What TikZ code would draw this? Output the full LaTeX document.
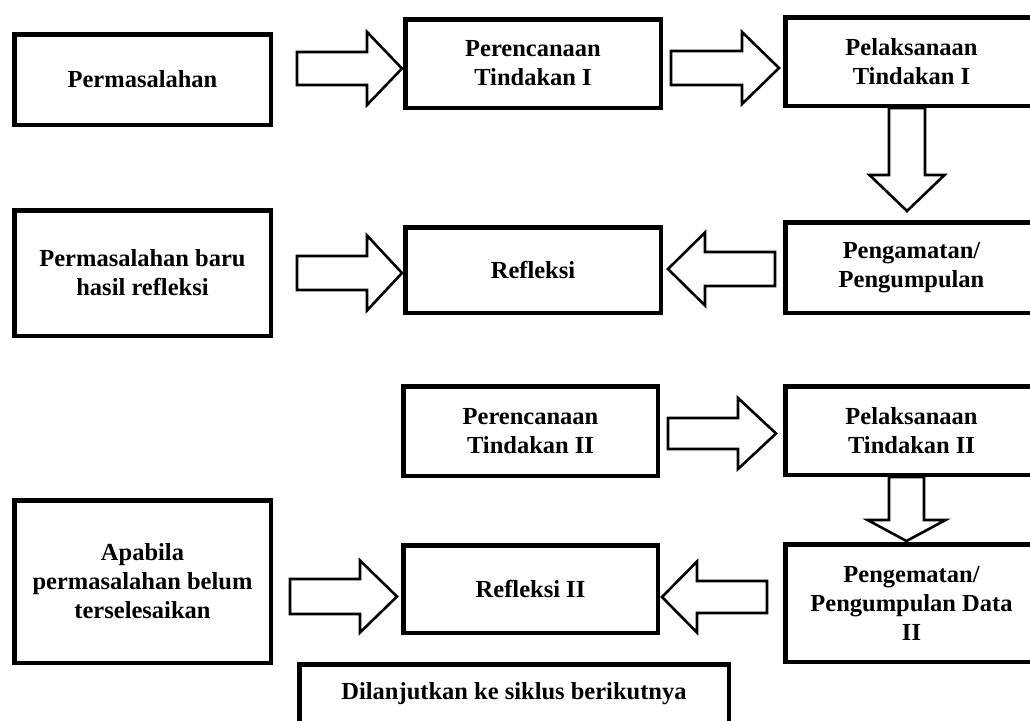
\documentclass[tikz,border=0pt]{standalone}
\usepackage{fontspec}
\setmainfont{Liberation Serif}
\begin{document}
\begin{tikzpicture}[x=1pt,y=-1pt,
  box/.style={draw=black, line width=4.5pt, fill=white, align=center, inner sep=0pt,
    font=\bfseries\fontsize{24.5}{29}\selectfont},
  barrow/.style={draw=black, line width=2.6pt, line join=miter}]
\newcommand\harrow[6]{% tail x, tip x, head-base x, y, shaft half, head half
  \draw[barrow] (#1,#4-#5) -- (#3,#4-#5) -- (#3,#4-#6) -- (#2,#4) -- (#3,#4+#6) -- (#3,#4+#5) -- (#1,#4+#5) -- cycle;}
\newcommand\varrow[6]{% tail y, tip y, head-base y, x, shaft half, head half
  \draw[barrow] (#4-#5,#1) -- (#4-#5,#3) -- (#4-#6,#3) -- (#4,#2) -- (#4+#6,#3) -- (#4+#5,#3) -- (#4+#5,#1) -- cycle;}
\useasboundingbox (0,0) rectangle (1030,720);
\fill[white] (0,0) rectangle (1030,720);
\clip (0,0) rectangle (1030,720);

% boxes
\node[box, minimum width=256.5pt, minimum height=90.5pt] (b1) at (142.5,79.5) {Permasalahan};
\node[box, minimum width=255.5pt, minimum height=88.5pt] (b2) at (533,63.5) {Perencanaan\\Tindakan I};
\node[box, minimum width=252.5pt, minimum height=88.5pt] (b3) at (911.5,61.5) {Pelaksanaan\\Tindakan I};
\node[box, minimum width=256.5pt, minimum height=125.5pt] (b4) at (142.5,273) {Permasalahan baru\\hasil refleksi};
\node[box, minimum width=255.5pt, minimum height=85.5pt] (b5) at (533,270) {Refleksi};
\node[box, minimum width=252.5pt, minimum height=90.5pt] (b6) at (911.5,267.5) {Pengamatan/\\Pengumpulan};
\node[box, minimum width=254.5pt, minimum height=89.5pt] (b7) at (530.5,431) {Perencanaan\\Tindakan II};
\node[box, minimum width=252.5pt, minimum height=88.5pt] (b8) at (911.5,430.5) {Pelaksanaan\\Tindakan II};
\node[box, minimum width=256.5pt, minimum height=162.5pt] (b9) at (142.5,581.5) {Apabila\\permasalahan belum\\terselesaikan};
\node[box, minimum width=254.5pt, minimum height=87.5pt] (b10) at (530.5,589) {Refleksi II};
\node[box, minimum width=252.5pt, minimum height=117.5pt] (b11) at (911.5,603) {Pengematan/\\Pengumpulan Data\\II};
\node[box, minimum width=429.5pt, minimum height=59.5pt] (b12) at (514,694) {Dilanjutkan ke siklus berikutnya};

% block arrows
\harrow{297}{402}{367}{68.5}{16.5}{36.5}
\harrow{671}{779}{742}{68}{17}{36}
\varrow{108}{211}{175}{907}{18}{37.5}
\harrow{297}{402}{367}{273}{17}{37.5}
\harrow{775}{668}{705}{269}{17}{36.5}
\harrow{668}{776}{738}{433.5}{15.5}{35.5}
\varrow{477}{541}{520}{906.5}{17.5}{39}
\harrow{290}{397}{360}{596.5}{17.5}{36}
\harrow{767}{662}{697}{597}{16}{35.5}
\end{tikzpicture}
\end{document}
